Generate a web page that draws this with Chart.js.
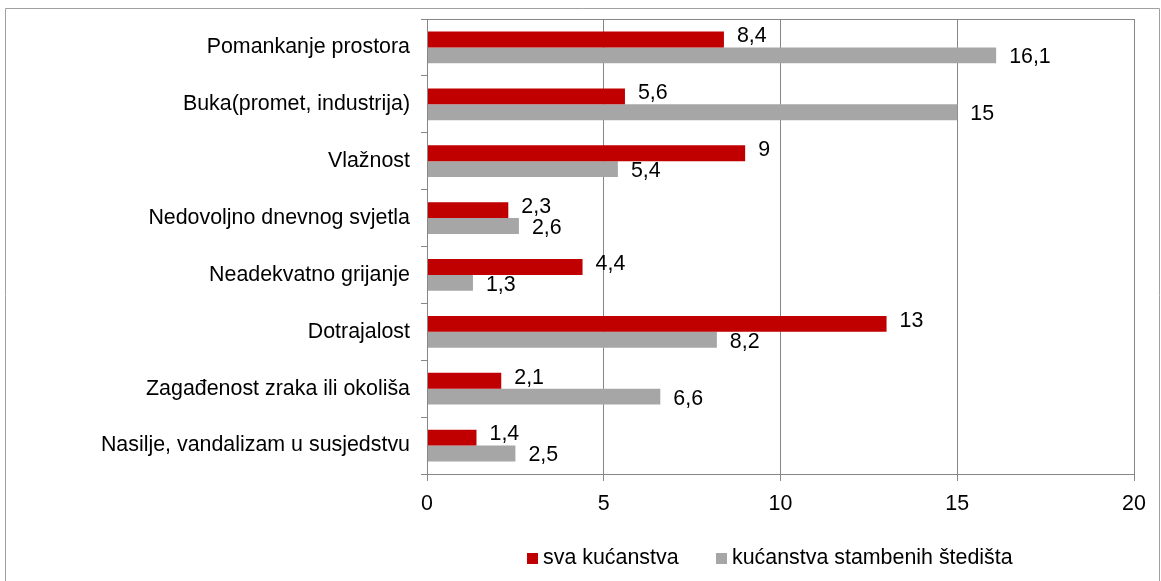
<!DOCTYPE html>
<html>
<head>
<meta charset="utf-8">
<script src="https://cdn.jsdelivr.net/npm/chart.js@4"></script>
<style>
  html, body { margin: 0; padding: 0; background: #fff; }
  #wrap { position: absolute; left: 0; top: 0; width: 1161px; height: 581px; }
</style>
</head>
<body>
<div id="wrap"><canvas id="c" width="1161" height="581"></canvas></div>
<script>
// Problemi stanovanja (%)
const categories = [
  'Pomankanje prostora',
  'Buka(promet, industrija)',
  'Vlažnost',
  'Nedovoljno dnevnog svjetla',
  'Neadekvatno grijanje',
  'Dotrajalost',
  'Zagađenost zraka ili okoliša',
  'Nasilje, vandalizam u susjedstvu'
];
const svaKucanstva = [8.4, 5.6, 9, 2.3, 4.4, 13, 2.1, 1.4];
const stambenaStedisa = [16.1, 15, 5.4, 2.6, 1.3, 8.2, 6.6, 2.5];
const seriesNames = ['sva kućanstva', 'kućanstva stambenih štedišta'];
const xTicks = [0, 5, 10, 15, 20];

const FONT = 'Arial, "Liberation Sans", sans-serif';
const FSIZE = 21.4;
const RED = '#C00000';
const GREY = '#A6A6A6';
const LINE = '#868686';

const fmt = v => String(v).replace('.', ',');

// frame, plot border, value labels and legend
const decor = {
  id: 'decor',
  afterDraw(chart) {
    const ctx = chart.ctx;
    const a = chart.chartArea;
    ctx.save();
    // outer frame
    ctx.strokeStyle = '#a0a0a0';
    ctx.lineWidth = 1;
    ctx.beginPath();
    ctx.moveTo(5.5, 590);
    ctx.lineTo(5.5, 8.5);
    ctx.lineTo(1159.5, 8.5);
    ctx.lineTo(1159.5, 590);
    ctx.stroke();
    // plot border
    ctx.strokeStyle = LINE;
    ctx.strokeRect(Math.round(a.left) + 0.5, Math.round(a.top) + 0.5,
                   Math.round(a.right - a.left), Math.round(a.bottom - a.top));
    // value labels
    ctx.fillStyle = '#000';
    ctx.font = FSIZE + 'px ' + FONT;
    ctx.textAlign = 'left';
    ctx.textBaseline = 'middle';
    chart.data.datasets.forEach((ds, i) => {
      const meta = chart.getDatasetMeta(i);
      meta.data.forEach((bar, j) => {
        ctx.fillText(fmt(ds.data[j]), bar.x + 13, bar.y + (i === 0 ? -3 : 2));
      });
    });
    // legend
    const items = [
      { x: 527, color: RED, text: seriesNames[0] },
      { x: 716, color: GREY, text: seriesNames[1] }
    ];
    const ly = 558;
    items.forEach(it => {
      ctx.fillStyle = it.color;
      ctx.fillRect(it.x, ly - 5, 11, 11);
      ctx.fillStyle = '#000';
      ctx.fillText(it.text, it.x + 16, ly);
    });
    ctx.restore();
  }
};

new Chart(document.getElementById('c'), {
  type: 'bar',
  data: {
    labels: categories,
    datasets: [
      { label: seriesNames[0], data: svaKucanstva, backgroundColor: RED },
      { label: seriesNames[1], data: stambenaStedisa, backgroundColor: GREY }
    ]
  },
  options: {
    indexAxis: 'y',
    responsive: false,
    animation: false,
    devicePixelRatio: 1,
    layout: { padding: { top: 19, right: 27, left: 0, bottom: 0 } },
    datasets: { bar: { barPercentage: 1, categoryPercentage: 0.56 } },
    plugins: { legend: { display: false }, tooltip: { enabled: false } },
    scales: {
      x: {
        min: 0, max: 20,
        afterBuildTicks(s) { s.ticks = xTicks.map(v => ({ value: v })); },
        afterFit(s) { s.height = 107; },
        grid: { color: LINE, tickLength: 7, drawTicks: true },
        border: { color: LINE },
        ticks: { color: '#000', font: { family: FONT, size: FSIZE }, padding: 10 }
      },
      y: {
        afterFit(s) { s.width = 427; s.paddingTop = 0; s.paddingBottom = 0; },
        grid: { drawOnChartArea: false, color: LINE, tickLength: 6, offset: true },
        border: { color: LINE },
        ticks: { color: '#000', font: { family: FONT, size: FSIZE }, padding: 11 }
      }
    }
  },
  plugins: [decor]
});
</script>
</body>
</html>
